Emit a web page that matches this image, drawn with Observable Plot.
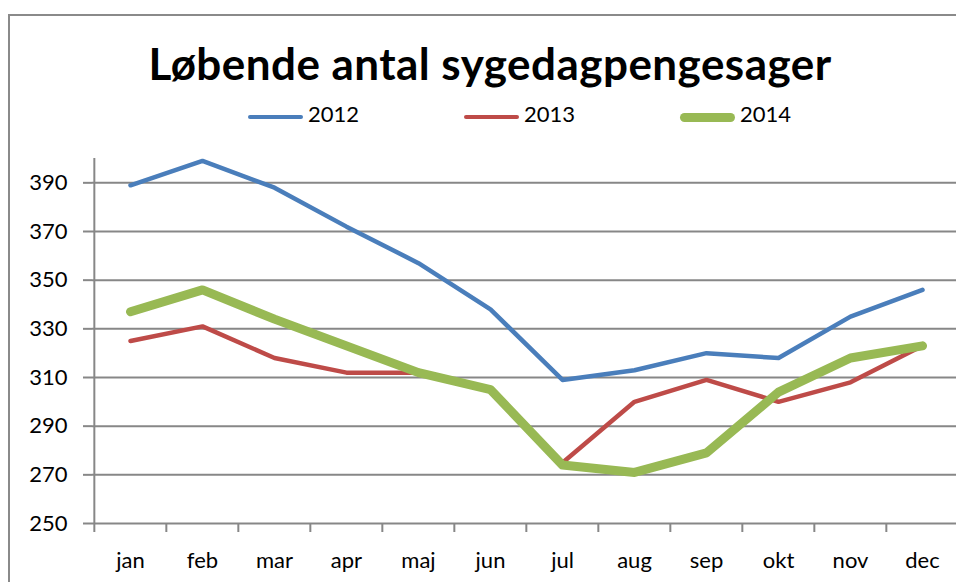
<!DOCTYPE html>
<html>
<head>
<meta charset="utf-8">
<script src="https://cdn.jsdelivr.net/npm/d3@7"></script>
<script src="https://cdn.jsdelivr.net/npm/@observablehq/plot@0.6"></script>
<style>
  html, body { margin: 0; padding: 0; background: #fff; overflow: hidden; }
  body { position: relative; width: 956px; height: 582px; font-family: Lato, "Open Sans", sans-serif; }
  #frame { position: absolute; left: 8px; top: 14px; width: 946px; height: 570px;
           border-left: 2px solid #8a8a8a; border-top: 2px solid #8a8a8a; }
  #title { position: absolute; left: 0; top: 41px; width: 980px; text-align: center;
           font-weight: 700; font-size: 44px; line-height: 44px; letter-spacing: 0.45px; color: #000; white-space: nowrap; }
  #legend { position: absolute; left: 248px; top: 103px; height: 22px; white-space: nowrap; }
  .item { position: relative; display: inline-block; width: 216px; height: 22px; }
  .swatch { position: absolute; left: 0; width: 55px; }
  .label { position: absolute; left: 60px; top: 0; font-size: 22px; line-height: 22px; color: #000; }
  #chart { position: absolute; left: 0; top: 140px; }
</style>
</head>
<body>
<div id="frame"></div>
<div id="title"></div>
<div id="legend"></div>
<div id="chart"></div>
<script>
const titleText = "Løbende antal sygedagpengesager";
const months = ["jan","feb","mar","apr","maj","jun","jul","aug","sep","okt","nov","dec"];
const years = ["2012","2013","2014"];
const values2012 = [389,399,388,372,357,338,309,313,320,318,335,346];
const values2013 = [325,331,318,312,312,305,275,300,309,300,308,323];
const values2014 = [337,346,334,323,312,305,274,271,279,304,318,323];
const yTicks = [250,270,290,310,330,350,370,390];
const colors = ["#4a7ebb","#be4b48","#98b954"];
const widths = [4.5,4.5,9];

const seriesValues = [values2012, values2013, values2014];
const data = years.flatMap((yr, i) => months.map((m, j) => ({month: m, year: yr, value: seriesValues[i][j]})));

document.getElementById("title").textContent = titleText;

const legend = document.getElementById("legend");
years.forEach((yr, i) => {
  const item = document.createElement("div");
  item.className = "item";
  const sw = document.createElement("span");
  sw.className = "swatch";
  sw.style.height = widths[i] + "px";
  sw.style.top = (14 - widths[i] / 2) + "px";
  sw.style.borderRadius = (widths[i] / 2) + "px";
  sw.style.background = colors[i];
  const lb = document.createElement("span");
  lb.className = "label";
  lb.textContent = yr;
  item.appendChild(sw);
  item.appendChild(lb);
  legend.appendChild(item);
});

const xRange = [92, 960];
const halfStep = (xRange[1] - xRange[0]) / months.length / 2;
const gridColor = "#878787";

const chart = Plot.plot({
  width: 956,
  height: 442,
  marginLeft: 92,
  marginRight: 0,
  marginTop: 18,
  marginBottom: 59,
  style: {fontFamily: "Lato, sans-serif", fontSize: "22px", color: "#000", background: "transparent", overflow: "visible"},
  x: {type: "point", domain: months, range: xRange, padding: 0.5, label: null},
  y: {domain: [250, 400], label: null},
  marks: [
    Plot.gridY(yTicks, {stroke: gridColor, strokeOpacity: 1, strokeWidth: 2}),
    Plot.axisY(yTicks, {tickSize: 9, tickPadding: 16, stroke: gridColor, strokeWidth: 2, fill: "#000", label: null}),
    Plot.axisX({tickSize: 9, dx: -halfStep, text: null, stroke: gridColor, strokeWidth: 2, label: null}),
    Plot.axisX({tickSize: 0, tickPadding: 29, fill: "#000", label: null}),
    Plot.ruleX([months[0]], {dx: -halfStep, stroke: gridColor, strokeWidth: 2}),
    ...years.map((yr, i) => Plot.line(data.filter(d => d.year === yr), {
      x: "month", y: "value", stroke: colors[i], strokeWidth: widths[i],
      strokeLinejoin: "round", strokeLinecap: "round"
    }))
  ]
});
document.getElementById("chart").appendChild(chart);
</script>
</body>
</html>
